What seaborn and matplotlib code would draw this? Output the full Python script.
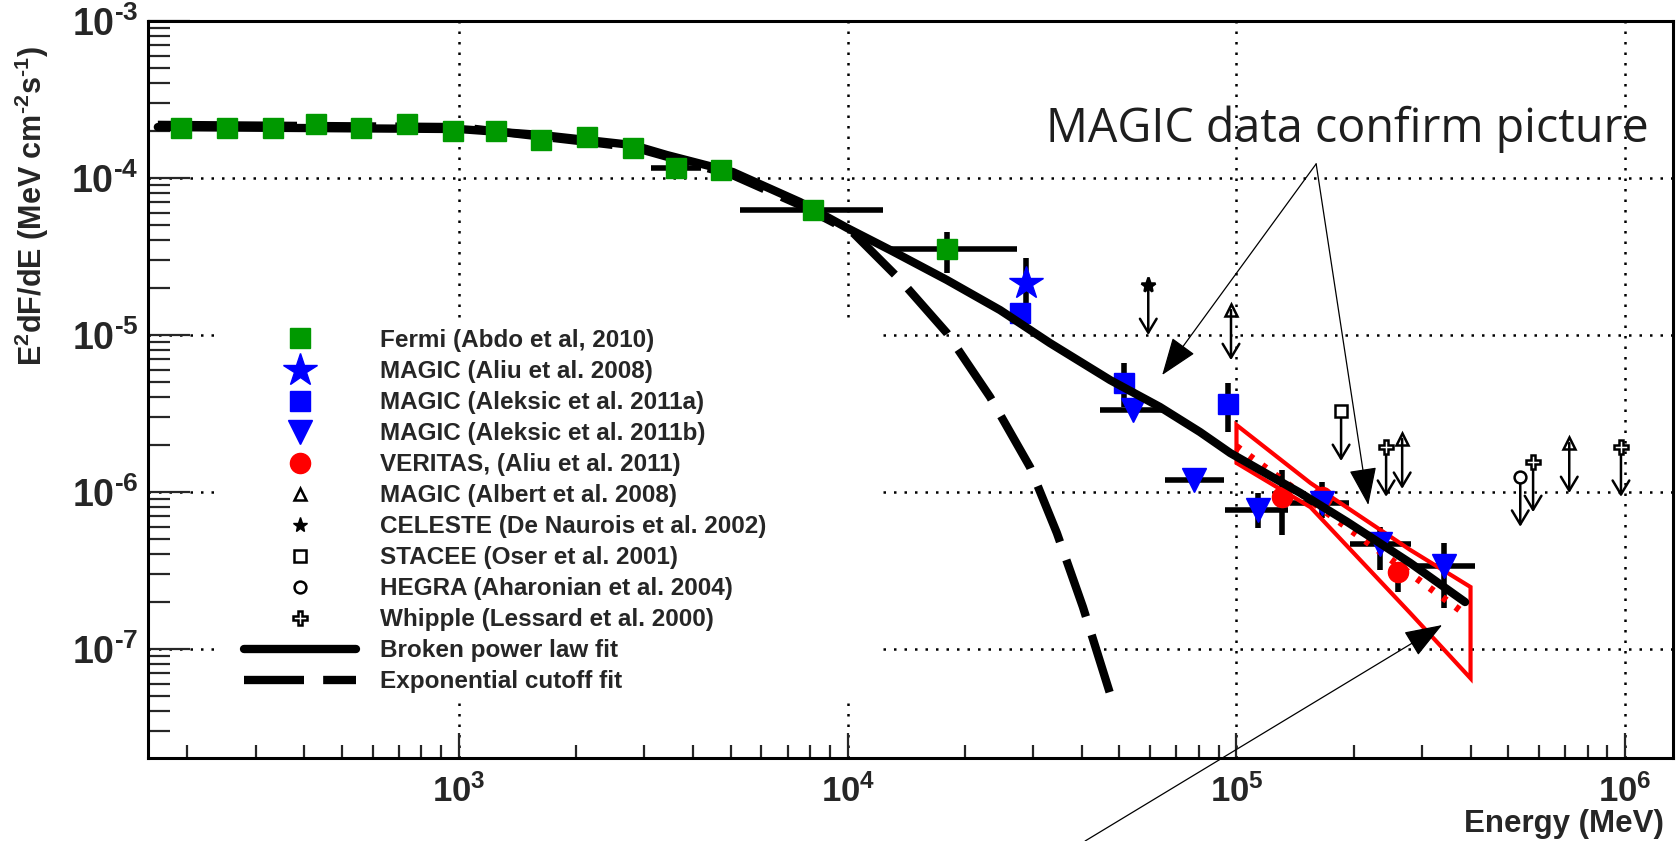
import numpy as np
import pandas as pd
import matplotlib
matplotlib.use("Agg")
import matplotlib.pyplot as plt
import seaborn as sns
from matplotlib.lines import Line2D
from matplotlib.patches import Rectangle

# ---------------- data ----------------
fermi_E = [193, 253, 332, 429, 560, 735, 966, 1245, 1625, 2134, 2803, 3615, 4718, 8140, 17990]
fermi_F = [2.08e-4, 2.08e-4, 2.08e-4, 2.21e-4, 2.08e-4, 2.21e-4, 1.99e-4, 1.99e-4,
           1.75e-4, 1.82e-4, 1.55e-4, 1.16e-4, 1.125e-4, 6.25e-5, 3.53e-5]
fermi_E_lo = [193, 253, 332, 429, 560, 735, 966, 1245, 1625, 2134, 2803, 3120, 4718, 5284, 12850]
fermi_E_hi = [193, 253, 332, 429, 560, 735, 966, 1245, 1625, 2134, 2803, 4190, 4718, 12330, 27300]
fermi_F_lo = [2.08e-4, 2.08e-4, 2.08e-4, 2.21e-4, 2.08e-4, 2.21e-4, 1.99e-4, 1.99e-4,
              1.75e-4, 1.82e-4, 1.55e-4, 1.16e-4, 1.125e-4, 6.25e-5, 2.48e-5]
fermi_F_hi = [2.08e-4, 2.08e-4, 2.08e-4, 2.21e-4, 2.08e-4, 2.21e-4, 1.99e-4, 1.99e-4,
              1.75e-4, 1.82e-4, 1.55e-4, 1.16e-4, 1.125e-4, 6.25e-5, 4.53e-5]

magic08_E = [28770]
magic08_F = [2.14e-5]
magic08_F_lo = [1.55e-5]
magic08_F_hi = [3.09e-5]

magic11a_E = [27700, 51400, 95100]
magic11a_F = [1.38e-5, 4.94e-6, 3.64e-6]
magic11a_F_lo = [1.38e-5, 3.48e-6, 2.41e-6]
magic11a_F_hi = [1.38e-5, 6.6e-6, 4.94e-6]

magic11b_E = [54200, 77800, 113800, 166000, 233900, 342000]
magic11b_F = [3.33e-6, 1.19e-6, 7.67e-7, 8.5e-7, 4.67e-7, 3.38e-7]
magic11b_E_lo = [44600, 65400, 93500, 137400, 196000, 283000]
magic11b_E_hi = [64700, 92900, 135900, 195000, 281000, 411000]
magic11b_F_lo = [3.33e-6, 1.12e-6, 5.9e-7, 6.83e-7, 3.18e-7, 1.82e-7]
magic11b_F_hi = [3.33e-6, 1.28e-6, 9.86e-7, 1.16e-6, 5.98e-7, 4.73e-7]

veritas_E = [130900, 166000, 260600]
veritas_F = [9.29e-7, 9.3e-7, 3.09e-7]
veritas_F_lo = [5.32e-7, 9.3e-7, 2.31e-7]
veritas_F_hi = [1.38e-6, 9.3e-7, 3.58e-7]

veritas_fit_E = [1.0e5, 3.9e5]
veritas_fit_F = [1.95e-6, 1.65e-7]
bowtie_E = [1.0e5, 1.55e5, 2.8e5, 4.0e5]
bowtie_F_up = [2.67e-6, 1.14e-6, 4.27e-7, 2.48e-7]
bowtie_F_lo = [1.53e-6, 8.0e-7, 1.69e-7, 6.5e-8]

albert_E = [96800, 266800, 717800]
albert_F = [1.44e-5, 2.18e-6, 2.05e-6]
celeste_E = [59300]
celeste_F = [2.08e-5]
stacee_E = [185800]
stacee_F = [3.28e-6]
hegra_E = [537000]
hegra_F = [1.25e-6]
whipple_E = [242600, 579400, 975000]
whipple_F = [1.94e-6, 1.55e-6, 1.94e-6]

bpl_E = [168, 1000, 1626, 2805, 3428, 5070, 7534, 9954, 12850, 17990, 24660, 33110,
         47320, 63530, 80540, 96390, 145900, 192800, 279900, 387300]
bpl_F = [2.11e-4, 2.05e-4, 1.88e-4, 1.62e-4, 1.40e-4, 1.09e-4, 7.03e-5, 4.81e-5, 3.48e-5,
         2.24e-5, 1.44e-5, 8.89e-6, 5.16e-6, 3.48e-6, 2.41e-6, 1.77e-6, 9.86e-7, 6.44e-7,
         3.53e-7, 1.99e-7]
cut_E = [168, 1000, 2805, 5070, 7534, 10330, 13650, 17990, 23230, 29440, 34510, 40270, 47860]
cut_F = [2.18e-4, 2.11e-4, 1.57e-4, 1.04e-4, 6.73e-5, 4.47e-5, 2.24e-5, 1.03e-5, 4.03e-6,
         1.44e-6, 5.48e-7, 1.85e-7, 4.73e-8]

callout_text = "MAGIC data confirm picture"
callout_src = (160300, 1.23e-4)
callout_tips_E = [64400, 218300]
callout_tips_F = [5.56e-6, 8.26e-7]
lower_src = (40800, 5.98e-9)
lower_tip = (338000, 1.42e-7)

legend_labels = ["Fermi (Abdo et al, 2010)", "MAGIC (Aliu et al. 2008)",
                 "MAGIC (Aleksic et al. 2011a)", "MAGIC (Aleksic et al. 2011b)",
                 "VERITAS, (Aliu et al. 2011)", "MAGIC (Albert et al. 2008)",
                 "CELESTE (De Naurois et al. 2002)", "STACEE (Oser et al. 2001)",
                 "HEGRA (Aharonian et al. 2004)", "Whipple (Lessard et al. 2000)",
                 "Broken power law fit", "Exponential cutoff fit"]
x_ticks = [1e3, 1e4, 1e5, 1e6]
x_ticklabels = [r"$\mathbf{10^{3}}$", r"$\mathbf{10^{4}}$", r"$\mathbf{10^{5}}$", r"$\mathbf{10^{6}}$"]
y_ticks = [1e-7, 1e-6, 1e-5, 1e-4, 1e-3]
y_ticklabels = [r"$\mathbf{10^{\text{-}7}}$", r"$\mathbf{10^{\text{-}6}}$",
                r"$\mathbf{10^{\text{-}5}}$", r"$\mathbf{10^{\text{-}4}}$",
                r"$\mathbf{10^{\text{-}3}}$"]
y_label = r"E$^{2}$dF/dE (MeV cm$^{\text{-}2}$s$^{\text{-}1}$)"
x_label = "Energy (MeV)"

# ---------------- style ----------------
sns.set_theme(style="white")
plt.rcParams["font.family"] = ["Liberation Sans", "DejaVu Sans"]
plt.rcParams["font.weight"] = "bold"
plt.rcParams["mathtext.fontset"] = "custom"
plt.rcParams["mathtext.rm"] = "Liberation Sans:bold"
plt.rcParams["mathtext.bf"] = "Liberation Sans:bold"
plt.rcParams["mathtext.it"] = "Liberation Sans:bold"
plt.rcParams["mathtext.default"] = "bf"

W, H = 1678, 841
fig = plt.figure(figsize=(W / 100, H / 100), dpi=100)
L, R, T, B = 148, 1673, 21, 758
ax = fig.add_axes([L / W, 1 - B / H, (R - L) / W, (B - T) / H])
ax.set_xscale("log")
ax.set_yscale("log")
ax.set_xlim(158.5, 1.327e6)
ax.set_ylim(2.02e-8, 1e-3)

# grid
ax.set_axisbelow(True)
ax.grid(True, which="major", color="black", linestyle=(0, (1, 3.2)), linewidth=1.8)
ax.grid(False, which="minor")
for s in ax.spines.values():
    s.set_color("black")
    s.set_linewidth(2.2)

# white panel behind legend (hides grid)
ax.add_patch(Rectangle((0.047, 0.083), 0.431, 0.509, transform=ax.transAxes,
                       facecolor="white", edgecolor="none", zorder=1))

# ticks
ax.set_xticks(x_ticks)
ax.set_xticklabels(x_ticklabels)
ax.set_yticks(y_ticks)
ax.set_yticklabels(y_ticklabels)
ax.tick_params(axis="x", which="major", direction="in", length=18, width=1.6,
               labelsize=25, pad=12, bottom=True, top=False)
ax.tick_params(axis="x", which="minor", direction="in", length=9.5, width=1.6,
               bottom=True, top=False)
ax.tick_params(axis="y", which="major", direction="in", length=30, width=1.6,
               labelsize=27, pad=7, left=True, right=False)
ax.tick_params(axis="y", which="minor", direction="in", length=16, width=1.6,
               left=True, right=False)
ax.xaxis.set_minor_locator(matplotlib.ticker.LogLocator(base=10, subs=np.arange(2, 10)))
ax.yaxis.set_minor_locator(matplotlib.ticker.LogLocator(base=10, subs=np.arange(2, 10)))
ax.xaxis.set_minor_formatter(matplotlib.ticker.NullFormatter())
ax.yaxis.set_minor_formatter(matplotlib.ticker.NullFormatter())

# ---------------- error bars ----------------
def ebar(E, F, Elo=None, Ehi=None, Flo=None, Fhi=None, z=3):
    E = np.array(E); F = np.array(F)
    xerr = None if Elo is None else [E - np.array(Elo), np.array(Ehi) - E]
    yerr = None if Flo is None else [F - np.array(Flo), np.array(Fhi) - F]
    ax.errorbar(E, F, xerr=xerr, yerr=yerr, fmt="none", ecolor="black",
                elinewidth=4, capsize=0, zorder=z)

ebar(fermi_E, fermi_F, fermi_E_lo, fermi_E_hi, fermi_F_lo, fermi_F_hi)
ebar(magic08_E, magic08_F, Flo=magic08_F_lo, Fhi=magic08_F_hi)
ebar(magic11a_E, magic11a_F, Flo=magic11a_F_lo, Fhi=magic11a_F_hi)
ebar(magic11b_E, magic11b_F, magic11b_E_lo, magic11b_E_hi, magic11b_F_lo, magic11b_F_hi)
ebar(veritas_E, veritas_F, Flo=veritas_F_lo, Fhi=veritas_F_hi)

# bowtie + VERITAS fit
ax.fill(bowtie_E + bowtie_E[::-1], bowtie_F_up + bowtie_F_lo[::-1],
        facecolor="none", edgecolor="#ff0000", linewidth=3, zorder=3.5)
sns.lineplot(x=veritas_fit_E, y=veritas_fit_F, ax=ax, color="#ff0000", linewidth=5,
             linestyle=(0, (0.7, 1.6)), sort=False, estimator=None, zorder=3.6, legend=False)

# ---------------- markers ----------------
GREEN, BLUE, RED = "#009900", "#0000ff", "#ff0000"
ax.plot(magic11a_E, magic11a_F, ls="none", marker="s", ms=15, color=BLUE, mec=BLUE, zorder=4)
ax.plot(magic08_E, magic08_F, ls="none", marker="*", ms=25, color=BLUE, mec=BLUE, zorder=4)
ax.plot(veritas_E, veritas_F, ls="none", marker="o", ms=14.5, color=RED, mec=RED, zorder=4)
ax.plot(magic11b_E, magic11b_F, ls="none", marker="v", ms=17, color=BLUE, mec=BLUE, zorder=4.2)

# curves
sns.lineplot(x=bpl_E, y=bpl_F, ax=ax, color="black", linewidth=6, sort=False,
             estimator=None, zorder=5, legend=False)
sns.lineplot(x=cut_E, y=cut_F, ax=ax, color="black", linewidth=6, sort=False,
             estimator=None, zorder=5, legend=False, linestyle=(0, (7.2, 2.3)))

ax.plot(fermi_E, fermi_F, ls="none", marker="s", ms=15, color=GREEN, mec=GREEN, zorder=6)

# ---------------- upper limits ----------------
ul_factor = 0.48
def ulims(E, F, marker, ms, face, shrink):
    for e, f in zip(E, F):
        ax.annotate("", xy=(e, f * ul_factor), xytext=(e, f),
                    arrowprops=dict(arrowstyle="->,head_length=0.5,head_width=0.3",
                                    lw=1.8, color="black", shrinkA=shrink, shrinkB=0,
                                    mutation_scale=20), zorder=6)
    ax.plot(E, F, ls="none", marker=marker, ms=ms, mfc=face, mec="black", mew=1.8, zorder=7)

ulims(albert_E, albert_F, "^", 9, "none", 0)
ulims(celeste_E, celeste_F, "*", 11, "black", 0)
ulims(stacee_E, stacee_F, "s", 8, "white", 4)
ulims(hegra_E, hegra_F, "o", 8.5, "white", 4)
ulims(whipple_E, whipple_F, "P", 9.5, "white", 4)

# ---------------- callout ----------------
fig.text(1046 / W, 1 - 142 / H, callout_text, fontsize=33.6, color="#1e1e1e",
         family=["Open Sans", "DejaVu Sans"], weight="normal", ha="left", va="baseline")
for e, f in zip(callout_tips_E, callout_tips_F):
    ax.annotate("", xy=(e, f), xytext=callout_src, annotation_clip=False,
                arrowprops=dict(arrowstyle="-|>,head_length=0.6,head_width=0.22",
                                lw=0.9, color="black", shrinkA=0, shrinkB=0,
                                mutation_scale=40), zorder=8)
ax.annotate("", xy=lower_tip, xytext=lower_src, annotation_clip=False,
            arrowprops=dict(arrowstyle="-|>,head_length=0.6,head_width=0.22",
                            lw=0.9, color="black", shrinkA=0, shrinkB=0,
                            mutation_scale=40, clip_on=False), zorder=8)

# ---------------- legend ----------------
handles = [
    Line2D([], [], ls="none", marker="s", ms=15, color=GREEN),
    Line2D([], [], ls="none", marker="*", ms=25, color=BLUE),
    Line2D([], [], ls="none", marker="s", ms=15, color=BLUE),
    Line2D([], [], ls="none", marker="v", ms=17, color=BLUE),
    Line2D([], [], ls="none", marker="o", ms=14.5, color=RED),
    Line2D([], [], ls="none", marker="^", ms=9, mfc="none", mec="black", mew=1.8),
    Line2D([], [], ls="none", marker="*", ms=11, color="black"),
    Line2D([], [], ls="none", marker="s", ms=8, mfc="white", mec="black", mew=1.8),
    Line2D([], [], ls="none", marker="o", ms=8.5, mfc="white", mec="black", mew=1.8),
    Line2D([], [], ls="none", marker="P", ms=9.5, mfc="white", mec="black", mew=1.8),
    Line2D([], [], color="black", lw=6),
    Line2D([], [], color="black", lw=6, ls=(0, (7.2, 2.3))),
]
fs_leg = 17.5
leg = ax.legend(handles, legend_labels, loc="upper left",
                bbox_to_anchor=(244 / W, 1 - 329 / H), bbox_transform=fig.transFigure,
                frameon=False, fontsize=fs_leg, handlelength=112 / (fs_leg * 100 / 72),
                handletextpad=1.0, labelspacing=0.33, borderpad=0, borderaxespad=0,
                markerscale=1)
leg.set_zorder(9)

# ---------------- axis labels ----------------
ax.text((32 - L) / (R - L), (B - 206) / (B - T), y_label, rotation=90,
        ha="center", va="center", fontsize=22, fontweight="bold", transform=ax.transAxes)
fig.text(1664 / W, 1 - 839 / H, x_label, ha="right", va="bottom",
         fontsize=22.5, fontweight="bold")

fig.savefig("out.png", dpi=100, facecolor="white")
